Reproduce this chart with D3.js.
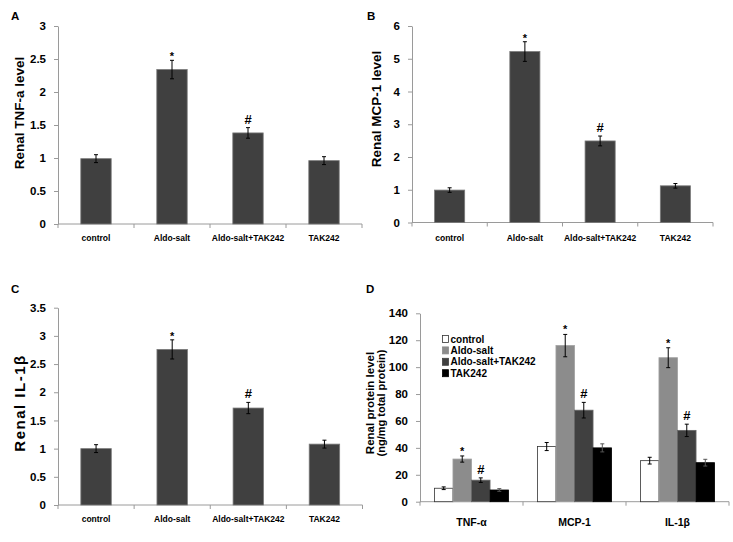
<!DOCTYPE html>
<html><head><meta charset="utf-8">
<script src="https://cdn.jsdelivr.net/npm/d3@7"></script>
<style>
body{margin:0;background:#fff;}
svg text{font-family:"Liberation Sans",Arial,sans-serif;font-weight:bold;fill:#000;}
</style></head>
<body><svg id="c" width="733" height="542"></svg>
<script>
// ---- data ----
const categories = ["control", "Aldo-salt", "Aldo-salt+TAK242", "TAK242"];
const sigMarks = ["", "*", "#", ""];

const tnfValues = [0.99, 2.34, 1.38, 0.96];
const tnfErrors = [0.06, 0.14, 0.08, 0.06];
const tnfTicks = [0, 0.5, 1, 1.5, 2, 2.5, 3];

const mcpValues = [0.99, 5.22, 2.49, 1.12];
const mcpErrors = [0.07, 0.30, 0.15, 0.07];
const mcpTicks = [0, 1, 2, 3, 4, 5, 6];

const il1bValues = [1.00, 2.76, 1.72, 1.08];
const il1bErrors = [0.07, 0.17, 0.10, 0.07];
const il1bTicks = [0, 0.5, 1, 1.5, 2, 2.5, 3, 3.5];

const proteinGroups = ["TNF-α", "MCP-1", "IL-1β"];
const proteinControl = [10, 41, 30.5];
const proteinControlErr = [1, 3, 2.5];
const proteinAldo = [31.7, 116, 107];
const proteinAldoErr = [2.3, 8.3, 7.4];
const proteinAldoTak = [16, 68, 53];
const proteinAldoTakErr = [1.7, 5.8, 4.6];
const proteinTak = [8.7, 40, 29];
const proteinTakErr = [1, 3, 2.5];
const proteinTicks = [0, 20, 40, 60, 80, 100, 120, 140];

const svg = d3.select("#c");
const axisColor = "#9a9a9a";

function styleAxis(g) {
  g.select(".domain").attr("stroke", axisColor);
  g.selectAll(".tick line").attr("stroke", axisColor);
}

function simplePanel(o) {
  const x = d3.scaleBand().domain(categories).range([o.x0, o.x1]).padding(0);
  const y = d3.scaleLinear().domain([0, o.max]).range([o.yBase, o.yTop]);
  const g = svg.append("g");
  const ya = g.append("g").attr("transform", `translate(${o.x0},0)`)
    .call(d3.axisLeft(y).tickValues(o.ticks).tickFormat(d => String(d)).tickSize(4).tickPadding(8).tickSizeOuter(0));
  styleAxis(ya);
  ya.selectAll("text").style("font-size", "11.5px");
  g.append("line").attr("x1", o.x0).attr("x2", o.x1).attr("y1", o.yBase).attr("y2", o.yBase).attr("stroke", axisColor);
  const bounds = [o.x0].concat(categories.map(c => x(c) + x.bandwidth()));
  g.selectAll(".xt").data(bounds).enter().append("line")
    .attr("x1", d => d).attr("x2", d => d).attr("y1", o.yBase).attr("y2", o.yBase + 4).attr("stroke", axisColor);
  g.selectAll(".xl").data(categories).enter().append("text")
    .attr("x", d => x(d) + x.bandwidth() / 2).attr("y", o.yBase + o.labelDy)
    .attr("text-anchor", "middle").style("font-size", "8.5px").text(d => d);
  const bw = x.bandwidth() * 0.4;
  g.selectAll(".bar").data(o.values).enter().append("rect")
    .attr("x", (d, i) => x(categories[i]) + (x.bandwidth() - bw) / 2)
    .attr("y", d => y(d)).attr("width", bw).attr("height", d => o.yBase - y(d))
    .attr("fill", "#404040").attr("stroke", "#7a7a7a").attr("stroke-width", 0.8);
  o.values.forEach((v, i) => {
    const cx = x(categories[i]) + x.bandwidth() / 2;
    const e = o.errors[i];
    g.append("line").attr("x1", cx).attr("x2", cx).attr("y1", y(v + e)).attr("y2", y(v - e)).attr("stroke", "#000").attr("stroke-width", 1);
    [v + e, v - e].forEach(t => g.append("line").attr("x1", cx - 2).attr("x2", cx + 2).attr("y1", y(t)).attr("y2", y(t)).attr("stroke", "#000").attr("stroke-width", 1));
    if (sigMarks[i]) {
      g.append("text").attr("x", cx).attr("y", y(v + e) - (sigMarks[i] === "#" ? 4 : 0))
        .attr("text-anchor", "middle").style("font-size", sigMarks[i] === "#" ? "13px" : "11px").text(sigMarks[i]);
    }
  });
  g.append("text").attr("transform", `translate(${o.tx},${o.ty}) rotate(-90)`)
    .attr("text-anchor", "middle").attr("dy", "0.35em").style("font-size", o.titleSize)
    .style("letter-spacing", o.titleSpacing || "0px").text(o.title);
  g.append("text").attr("x", o.lx).attr("y", o.ly).style("font-size", "11.5px").text(o.letter);
}

simplePanel({x0: 58, x1: 362, yBase: 224, yTop: 26, max: 3, ticks: tnfTicks, values: tnfValues, errors: tnfErrors,
  labelDy: 17, title: "Renal TNF-a level", titleSize: "13.5px", tx: 19, ty: 113, letter: "A", lx: 11, ly: 20});
simplePanel({x0: 412, x1: 713, yBase: 222.5, yTop: 26, max: 6, ticks: mcpTicks, values: mcpValues, errors: mcpErrors,
  labelDy: 18, title: "Renal MCP-1 level", titleSize: "13.5px", tx: 376.5, ty: 109, letter: "B", lx: 367, ly: 20});
simplePanel({x0: 58, x1: 362.5, yBase: 505, yTop: 307.7, max: 3.5, ticks: il1bTicks, values: il1bValues, errors: il1bErrors,
  labelDy: 16.5, title: "Renal IL-1β", titleSize: "15px", titleSpacing: "1.5px", tx: 19.5, ty: 403, letter: "C", lx: 11, ly: 293});

// ---- panel D ----
(function () {
  const x0 = 420, x1 = 729, yBase = 501.7, yTop = 313.3;
  const series = [
    {name: "control", values: proteinControl, errors: proteinControlErr, fill: "#ffffff", stroke: "#333"},
    {name: "Aldo-salt", values: proteinAldo, errors: proteinAldoErr, fill: "#8c8c8c", stroke: "#a0a0a0"},
    {name: "Aldo-salt+TAK242", values: proteinAldoTak, errors: proteinAldoTakErr, fill: "#404040", stroke: "#666"},
    {name: "TAK242", values: proteinTak, errors: proteinTakErr, fill: "#000000", stroke: "#000"}
  ];
  const x = d3.scaleBand().domain(proteinGroups).range([x0, x1]).padding(0);
  const inner = d3.scaleBand().domain(series.map(s => s.name)).range([x.bandwidth() * 0.14, x.bandwidth() * 0.86]).padding(0);
  const y = d3.scaleLinear().domain([0, 140]).range([yBase, yTop]);
  const g = svg.append("g");
  const ya = g.append("g").attr("transform", `translate(${x0},0)`)
    .call(d3.axisLeft(y).tickValues(proteinTicks).tickSize(4).tickPadding(8).tickSizeOuter(0));
  styleAxis(ya);
  ya.selectAll("text").style("font-size", "11.5px");
  g.append("line").attr("x1", x0).attr("x2", x1).attr("y1", yBase).attr("y2", yBase).attr("stroke", axisColor);
  const bounds = [x0].concat(proteinGroups.map(c => x(c) + x.bandwidth()));
  g.selectAll(".xt").data(bounds).enter().append("line")
    .attr("x1", d => d).attr("x2", d => d).attr("y1", yBase).attr("y2", yBase + 4).attr("stroke", axisColor);
  g.selectAll(".xl").data(proteinGroups).enter().append("text")
    .attr("x", d => x(d) + x.bandwidth() / 2).attr("y", yBase + 24)
    .attr("text-anchor", "middle").style("font-size", "10.5px").text(d => d);
  series.forEach((s, si) => {
    proteinGroups.forEach((grp, gi) => {
      const v = s.values[gi], e = s.errors[gi];
      const bx = x(grp) + inner(s.name);
      g.append("rect").attr("x", bx).attr("y", y(v)).attr("width", inner.bandwidth()).attr("height", yBase - y(v))
        .attr("fill", s.fill).attr("stroke", s.stroke).attr("stroke-width", 0.8);
      const cx = bx + inner.bandwidth() / 2;
      const ec = s.fill === "#000000" ? "#555" : "#000";
      g.append("line").attr("x1", cx).attr("x2", cx).attr("y1", y(v + e)).attr("y2", y(v - e)).attr("stroke", ec);
      [v + e, v - e].forEach(t => g.append("line").attr("x1", cx - 2).attr("x2", cx + 2).attr("y1", y(t)).attr("y2", y(t)).attr("stroke", ec));
      if (sigMarks[si]) {
        g.append("text").attr("x", cx).attr("y", y(v + e) - (sigMarks[si] === "#" ? 4 : 1))
          .attr("text-anchor", "middle").style("font-size", sigMarks[si] === "#" ? "13px" : "11px").text(sigMarks[si]);
      }
    });
  });
  series.forEach((s, i) => {
    const ly = 339 + i * 11.4;
    g.append("rect").attr("x", 442.5).attr("y", ly - 3.5).attr("width", 6).attr("height", 7)
      .attr("fill", s.fill).attr("stroke", s.fill === "#ffffff" ? "#333" : s.fill).attr("stroke-width", 0.8);
    g.append("text").attr("x", 450.5).attr("y", ly).attr("dy", "0.35em").style("font-size", "10px").text(s.name);
  });
  g.append("text").attr("transform", `translate(369.5,403) rotate(-90)`).attr("text-anchor", "middle").attr("dy", "0.35em")
    .style("font-size", "11.5px").text("Renal protein level");
  g.append("text").attr("transform", `translate(381,403) rotate(-90)`).attr("text-anchor", "middle").attr("dy", "0.35em")
    .style("font-size", "11px").text("(ng/mg total protein)");
  g.append("text").attr("x", 366).attr("y", 292.5).style("font-size", "11.5px").text("D");
})();
</script></body></html>
